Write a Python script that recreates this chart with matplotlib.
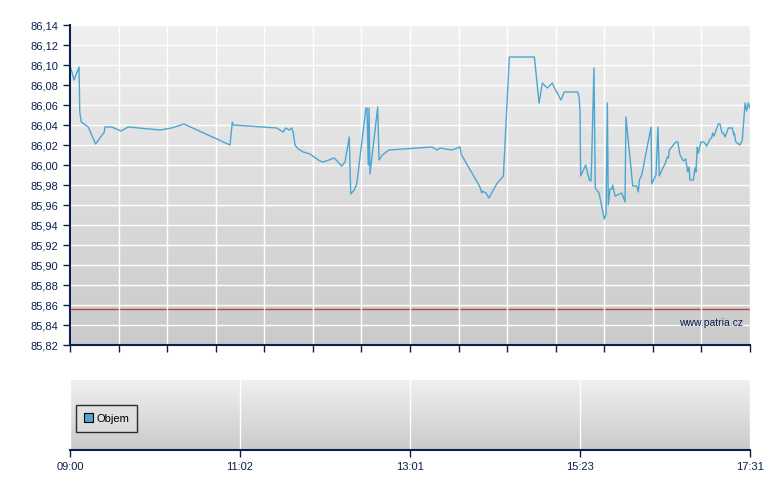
import numpy as np
import matplotlib
matplotlib.use("Agg")
import matplotlib.pyplot as plt
from matplotlib.colors import LinearSegmentedColormap
from matplotlib.ticker import FuncFormatter

plt.rcParams['font.family'] = ['Liberation Sans', 'DejaVu Sans']

# Tick labels of the time axis (equally spaced on the chart)
tick_labels = ["09:00", "11:02", "13:01", "15:23", "17:31"]
# minutes since 09:00 for each label
tick_minutes = [0, 122, 241, 383, 511]

# trades: minutes since 09:00 and price
t_min = [0.5, 2.9, 6.5, 7.0, 8.1, 13.1, 18.4, 24.6, 25.1, 29.9, 36.6, 41.8, 64.6, 73.0, 81.8, 89.7,
         114.8, 116.5, 117.2, 147.7, 152.3, 154.0, 156.5, 158.2, 159.3, 160.5, 162.8, 166.3, 171.0,
         173.8, 178.0, 180.3, 188.0, 193.2, 195.5, 198.5, 199.5, 202.0, 203.7, 210.2, 210.9, 211.8,
         212.3, 213.0, 218.4, 219.3, 221.6, 226.3, 259.1, 263.8, 266.1, 275.8, 282.8, 283.6, 299.5,
         300.9, 301.4, 304.5, 307.0, 308.7, 313.4, 319.0, 324.0, 344.9, 348.8, 351.6, 355.7, 359.9,
         361.3, 367.1, 369.9, 381.1, 382.2, 383.0, 383.5, 387.3, 390.0, 391.3, 391.8, 393.5, 394.5,
         397.3, 401.3, 402.6, 403.6, 404.3, 405.6, 407.1, 407.6, 409.4, 414.4, 416.9, 417.6, 422.7,
         425.7, 426.9, 427.7, 429.5, 436.5, 437.0, 440.2, 441.7, 442.7, 445.3, 447.0, 448.8, 449.5,
         450.3, 455.1, 456.6, 458.3, 460.8, 462.6, 463.4, 464.1, 465.1, 465.8, 468.3, 469.6, 470.3,
         471.3, 472.1, 474.1, 476.3, 478.4, 480.9, 482.1, 482.9, 483.9, 487.1, 488.4, 489.9, 490.9,
         492.2, 494.7, 497.7, 498.8, 499.2, 500.3, 503.5, 505.2, 507.3, 508.5, 509.7, 511.0]
price = [86.097, 86.085, 86.098, 86.053, 86.043, 86.038, 86.021, 86.033, 86.038, 86.038, 86.034,
         86.038, 86.035, 86.037, 86.041, 86.036, 86.020, 86.043, 86.040, 86.037, 86.033, 86.037,
         86.035, 86.037, 86.032, 86.020, 86.016, 86.013, 86.011, 86.008, 86.004, 86.003, 86.007,
         85.999, 86.003, 86.028, 85.971, 85.975, 85.981, 86.057, 86.057, 86.000, 86.057, 85.991,
         86.058, 86.005, 86.010, 86.015, 86.018, 86.015, 86.017, 86.015, 86.018, 86.011, 85.978,
         85.972, 85.974, 85.972, 85.967, 85.971, 85.981, 85.989, 86.108, 86.108, 86.062, 86.082,
         86.077, 86.082, 86.078, 86.065, 86.073, 86.073, 86.068, 86.055, 85.989, 86.000, 85.985,
         85.984, 86.005, 86.097, 85.977, 85.972, 85.946, 85.951, 86.062, 85.960, 85.976, 85.976,
         85.980, 85.969, 85.972, 85.963, 86.048, 85.979, 85.979, 85.973, 85.985, 85.990, 86.038,
         85.981, 85.990, 86.038, 85.989, 85.997, 86.001, 86.008, 86.007, 86.015, 86.023, 86.023,
         86.010, 86.004, 86.006, 85.999, 85.993, 85.998, 85.985, 85.985, 85.997, 85.993, 86.018,
         86.012, 86.023, 86.023, 86.019, 86.026, 86.027, 86.032, 86.029, 86.041, 86.041, 86.032,
         86.032, 86.028, 86.037, 86.037, 86.030, 86.032, 86.023, 86.020, 86.025, 86.062, 86.054,
         86.062, 86.057]
ref_level = 85.856
y_min, y_max, y_step = 85.82, 86.14, 0.02

NAVY = "#0a1f4d"
LINE = "#4ba6d1"

fig = plt.figure(figsize=(7.8, 4.9), dpi=100)
fig.patch.set_facecolor("white")

cmap = LinearSegmentedColormap.from_list("bg", ["#cacaca", "#f0f0f0"])
grad = np.linspace(0, 1, 256).reshape(-1, 1)

def add_bg(ax):
    ax.set_facecolor("none")
    ax.imshow(grad, extent=[0, 1, 0, 1], transform=ax.transAxes, aspect="auto",
              cmap=cmap, origin="lower", zorder=0, interpolation="bicubic")

n_int = len(tick_labels) - 1
xpos = np.interp(t_min, tick_minutes, np.arange(len(tick_labels)))

# ---- main price panel
ax = fig.add_axes([70 / 780, 1 - 345 / 490, 680 / 780, 320 / 490])
add_bg(ax)
ax.set_xlim(0, n_int)
ax.set_ylim(y_min, y_max)
yt = np.arange(y_min, y_max + y_step / 2, y_step)
ax.set_yticks(yt)
ax.yaxis.set_major_formatter(FuncFormatter(lambda v, p: f"{v:.2f}".replace(".", ",")))
xt = np.linspace(0, n_int, 15)
ax.set_xticks(xt)
ax.set_xticklabels([])
ax.grid(True, color="white", linewidth=1.0, zorder=1)
ax.set_axisbelow(False)
for s in ["top", "right"]:
    ax.spines[s].set_visible(False)
for s in ["left", "bottom"]:
    ax.spines[s].set_color(NAVY)
    ax.spines[s].set_linewidth(1.5)
    ax.spines[s].set_zorder(5)
ax.tick_params(axis="both", colors=NAVY, length=5, width=1, labelsize=8, labelcolor=NAVY)
ax.axhline(ref_level, color="#b84444", linewidth=1.0, zorder=2)
ax.plot(xpos, price, color=LINE, linewidth=1.0, zorder=3)
ax.text(0.99, 0.07, "www.patria.cz", transform=ax.transAxes, ha="right", va="center",
        fontsize=7.5, color=NAVY, zorder=4)

# ---- volume panel
ax2 = fig.add_axes([70 / 780, 1 - 450 / 490, 680 / 780, 70 / 490])
add_bg(ax2)
ax2.set_xlim(0, n_int)
ax2.set_ylim(0, 1)
ax2.set_xticks(np.arange(len(tick_labels)))
ax2.set_xticklabels(tick_labels)
ax2.set_yticks([])
ax2.grid(True, axis="x", color="white", linewidth=1.0, zorder=1)
for s in ["top", "right", "left"]:
    ax2.spines[s].set_visible(False)
ax2.spines["bottom"].set_color(NAVY)
ax2.spines["bottom"].set_linewidth(1.5)
ax2.tick_params(axis="x", colors=NAVY, length=5, width=1, labelsize=8, labelcolor=NAVY)
ax2.bar([0], [0], color=LINE, label="Objem")
leg = ax2.legend(loc="center left", bbox_to_anchor=(0.005, 0.45), frameon=True, fancybox=False,
                 fontsize=8, handlelength=0.8, handleheight=0.8, handletextpad=0.3,
                 borderpad=0.75, borderaxespad=0.2)
leg.get_frame().set_edgecolor("black")
leg.get_frame().set_facecolor("#e0e0e0")
leg.get_frame().set_linewidth(1.0)
for h in leg.legend_handles:
    h.set_edgecolor("black")
    h.set_linewidth(0.8)

fig.savefig("out.png", dpi=100)
